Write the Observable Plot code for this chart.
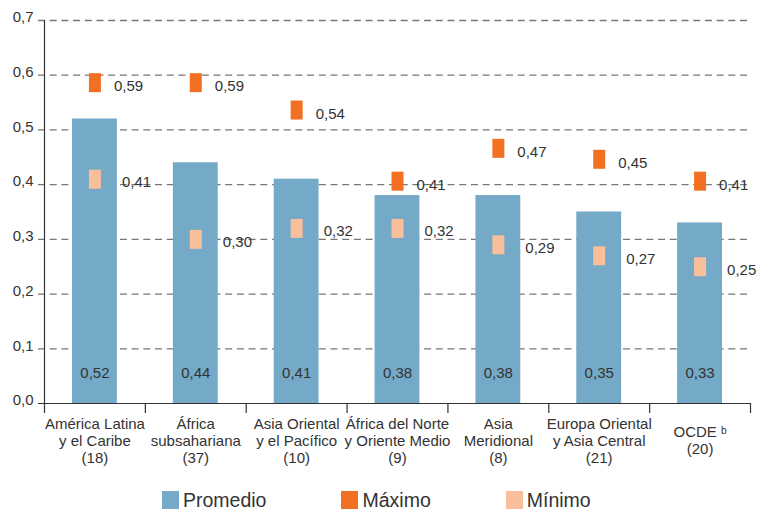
<!DOCTYPE html>
<html><head><meta charset="utf-8">
<script src="https://cdn.jsdelivr.net/npm/d3@7"></script>
<script src="https://cdn.jsdelivr.net/npm/@observablehq/plot@0.6"></script>
<style>
body{margin:0;background:#fff;font-family:"Liberation Sans",Arial,sans-serif;color:#333;overflow:hidden;}
#chart svg{display:block;overflow:visible;}
#legend{display:flex;align-items:center;gap:75px;padding-left:162px;margin-top:5px;height:22px;}
.item{display:flex;align-items:center;gap:4px;font-size:19.5px;line-height:22px;height:22px;color:#333;}
.sw{width:17px;height:18px;display:inline-block;}
</style></head><body>
<div id="chart"></div>
<div id="legend"></div>
<script>
const categories = [
  "América Latina\ny el Caribe\n(18)",
  "África\nsubsahariana\n(37)",
  "Asia Oriental\ny el Pacífico\n(10)",
  "África del Norte\ny Oriente Medio\n(9)",
  "Asia\nMeridional\n(8)",
  "Europa Oriental\ny Asia Central\n(21)",
  "OCDE ᵇ\n(20)"
];
const promedio = [0.52, 0.44, 0.41, 0.38, 0.38, 0.35, 0.33];
const maximo   = [0.59, 0.59, 0.54, 0.41, 0.47, 0.45, 0.41];
const minimo   = [0.41, 0.30, 0.32, 0.32, 0.29, 0.27, 0.25];
const yTicks   = [0, 0.1, 0.2, 0.3, 0.4, 0.5, 0.6, 0.7];
const legendLabels = ["Promedio", "Máximo", "Mínimo"];

const colors = {bar: "#74a9c7", max: "#f37022", min: "#f9be9b"};
const data = categories.map((c, i) => ({cat: c, prom: promedio[i], max: maximo[i], min: minimo[i]}));
const fmt2 = v => v.toFixed(2).replace(".", ",");
const fmt1 = v => v.toFixed(1).replace(".", ",");

const W = 757, H = 484, mL = 44, mR = 7, mT = 20, mB = 81;
const step = (W - mL - mR) / categories.length;
const rectSym = {draw(ctx) { ctx.rect(-6, -9.5, 12, 19); }};
const txt = {fontSize: 15, fill: "#333", fontFamily: "Liberation Sans, Arial, sans-serif"};

const chart = Plot.plot({
  width: W, height: H,
  marginLeft: mL, marginRight: mR, marginTop: mT, marginBottom: mB,
  style: {fontFamily: "Liberation Sans, Arial, sans-serif", color: "#333", background: "#fff"},
  x: {type: "band", domain: categories, padding: 0, round: false, axis: null, label: null},
  y: {domain: [0, 0.7], axis: null, label: null},
  marks: [
    Plot.ruleY(yTicks.slice(1), {stroke: "#777", strokeWidth: 1.3, strokeDasharray: "7,4.7", insetLeft: -6}),
    Plot.barY(data, {x: "cat", y: "prom", fill: colors.bar, insetLeft: 28, insetRight: 28}),
    Plot.ruleY([0], {stroke: "#333", strokeWidth: 1.2, insetLeft: -6}),
    Plot.frame({anchor: "left", stroke: "#333", strokeWidth: 1.2}),
    Plot.axisX(categories, {anchor: "bottom", label: null, tickSize: 10, tickFormat: () => "", dx: -step / 2, stroke: "#333", strokeWidth: 1.2}),
    Plot.axisX(categories.slice(-1), {anchor: "bottom", label: null, tickSize: 10, tickFormat: () => "", dx: step / 2, stroke: "#333", strokeWidth: 1.2}),
    Plot.axisY(yTicks, {anchor: "left", label: null, tickSize: 0, tickPadding: 11, tickFormat: fmt1, dy: -3, ...txt}),
    Plot.text(data, {x: "cat", y: 0, text: d => fmt2(d.prom), dy: -30, ...txt}),
    Plot.dot(data, {x: "cat", y: "max", symbol: rectSym, fill: colors.max, dy: 2}),
    Plot.dot(data, {x: "cat", y: "min", symbol: rectSym, fill: colors.min}),
    Plot.text(data, {x: "cat", y: "max", text: d => fmt2(d.max), dx: 19, dy: 6, textAnchor: "start", ...txt}),
    Plot.text(data, {x: "cat", y: "min", text: d => fmt2(d.min), dx: 27, dy: 3, textAnchor: "start", ...txt}),
    Plot.text(categories, {x: d => d, frameAnchor: "bottom", text: d => d, dy: 37, lineAnchor: "middle", lineHeight: 1.13, ...txt})
  ]
});
document.getElementById("chart").append(chart);

const legend = document.getElementById("legend");
[colors.bar, colors.max, colors.min].forEach((c, i) => {
  const it = document.createElement("div");
  it.className = "item";
  it.innerHTML = `<span class="sw" style="background:${c}"></span><span>${legendLabels[i]}</span>`;
  legend.append(it);
});
</script>
</body></html>
